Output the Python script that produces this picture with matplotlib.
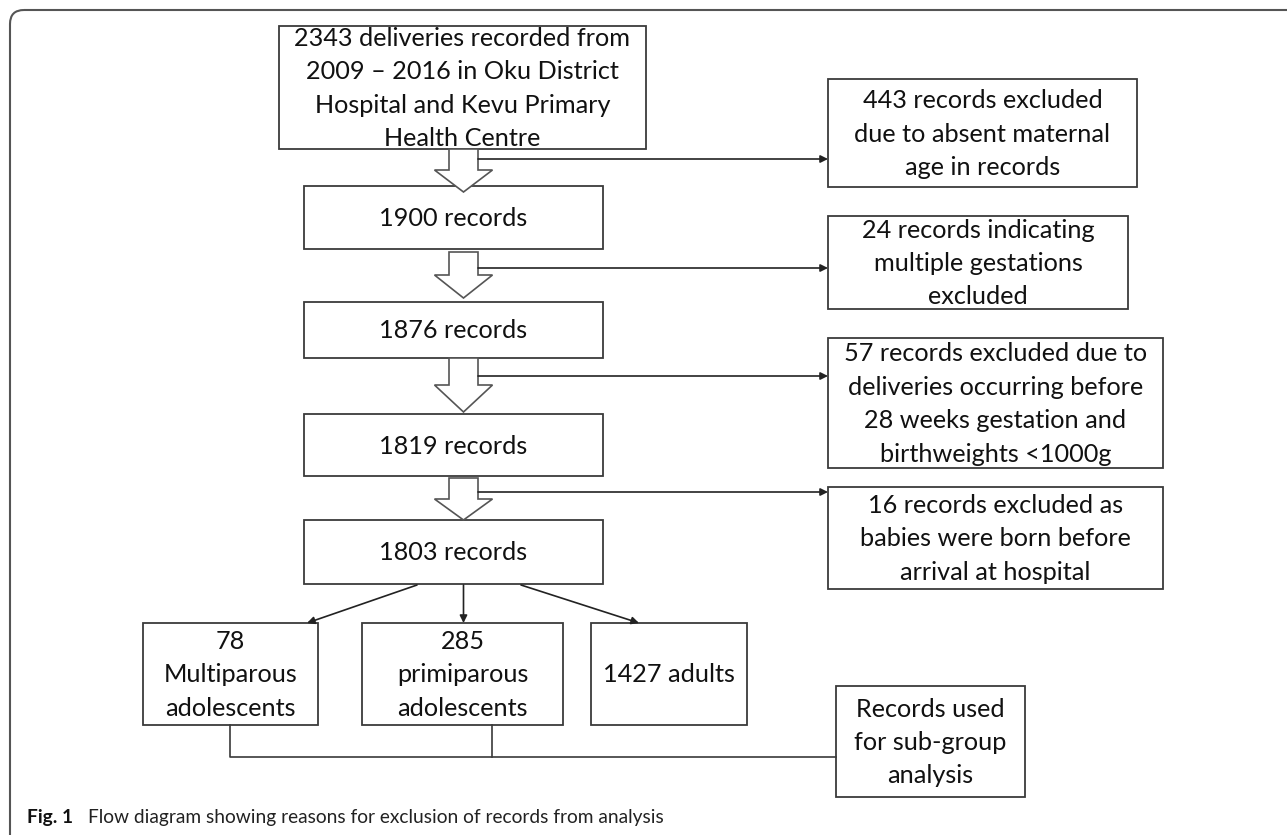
import matplotlib.pyplot as plt
from matplotlib.patches import Rectangle, Polygon, FancyBboxPatch

plt.rcParams["font.family"] = ["Lato", "DejaVu Sans"]

# counts shown in the flow diagram
total = 2343
excluded = [443, 24, 57, 16]
remaining = [1900, 1876, 1819, 1803]
groups = [78, 285, 1427]

top_text = f"{total} deliveries recorded from\n2009 \u2013 2016 in Oku District\nHospital and Kevu Primary\nHealth Centre"
excl_texts = [
    f"{excluded[0]} records excluded\ndue to absent maternal\nage in records",
    f"{excluded[1]} records indicating\nmultiple gestations\nexcluded",
    f"{excluded[2]} records excluded due to\ndeliveries occurring before\n28 weeks gestation and\nbirthweights <1000g",
    f"{excluded[3]} records excluded as\nbabies were born before\narrival at hospital",
]
group_texts = [
    f"{groups[0]}\nMultiparous\nadolescents",
    f"{groups[1]}\nprimiparous\nadolescents",
    f"{groups[2]} adults",
]
subgroup_text = "Records used\nfor sub-group\nanalysis"
caption = "Flow diagram showing reasons for exclusion of records from analysis"

W, H = 1287, 835
fig = plt.figure(figsize=(W / 100, H / 100), dpi=100)
ax = fig.add_axes([0, 0, 1, 1])
ax.set_xlim(0, W)
ax.set_ylim(H, 0)
ax.axis("off")

EDGE = "#3a3a3a"
FS = 18.2
PITCH = 33.4


def box(x0, x1, y0, y1, text):
    ax.add_patch(Rectangle((x0, y0), x1 - x0, y1 - y0, fill=False, ec=EDGE, lw=1.3))
    lines = text.split("\n")
    cy = (y0 + y1) / 2 + 1
    n = len(lines)
    for i, ln in enumerate(lines):
        ax.text((x0 + x1) / 2, cy + (i - (n - 1) / 2) * PITCH, ln, ha="center",
                va="center", fontsize=FS, color="#111111")


def hollow_arrow(cx, y0, yw, ytip, hs=14.5, hw=29):
    pts = [(cx - hs, y0), (cx + hs, y0), (cx + hs, yw), (cx + hw, yw), (cx, ytip),
           (cx - hw, yw), (cx - hs, yw)]
    ax.add_patch(Polygon(pts, closed=True, fc="white", ec="#555555", lw=1.2, zorder=3))


def arrow(x0, y0, x1, y1):
    ax.annotate("", xy=(x1, y1), xytext=(x0, y0),
                arrowprops=dict(arrowstyle="-|>", color="#222222", lw=1.2,
                                mutation_scale=11, shrinkA=0, shrinkB=0))


# outer frame (open to the right and bottom)
ax.add_patch(FancyBboxPatch((10, 10), 1400, 900, boxstyle="round,pad=0,rounding_size=14",
                            fill=False, ec="#555555", lw=1.5))

# main column
box(279, 646, 26, 149, top_text)
main_y = [(186, 249), (302, 358), (414, 476), (520, 584)]
for (y0, y1), n in zip(main_y, remaining):
    box(304, 603, y0, y1, f"{n} records")

arrows_y = [(149, 170, 192), (252, 275, 298), (358, 385, 412), (478, 499, 520)]
for a in arrows_y:
    hollow_arrow(463.5, *a)

# exclusion boxes
excl_box = [(828, 1137, 79, 187), (828, 1128, 216, 309), (828, 1163, 338, 468), (828, 1163, 487, 589)]
line_y = [159, 268, 376, 492]
for b, t, ly in zip(excl_box, excl_texts, line_y):
    box(*b, t)
    arrow(478, ly, 828, ly)

# groups
group_box = [(143, 318), (362, 563), (591, 747)]
for (x0, x1), t in zip(group_box, group_texts):
    box(x0, x1, 623, 725, t)
arrow(417, 585, 307, 623)
arrow(463.5, 585, 463.5, 623)
arrow(521, 585, 639, 623)

# sub-group bracket
box(836, 1025, 686, 797, subgroup_text)
ax.plot([230, 230, 836], [725, 757, 757], color=EDGE, lw=1.2)
ax.plot([492, 492], [725, 757], color=EDGE, lw=1.2)

# caption
ax.text(27, 818, "Fig. 1", fontsize=13.8, fontweight="bold", va="center", ha="left", color="#111111")
ax.text(88, 818, caption, fontsize=13.8, va="center", ha="left", color="#222222")

fig.savefig("out.png", dpi=100)
